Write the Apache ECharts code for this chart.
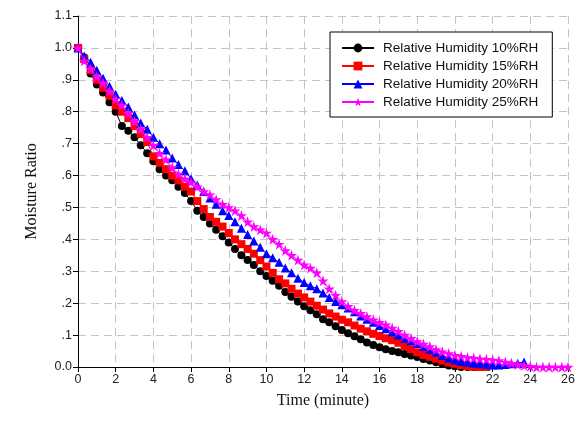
<!DOCTYPE html>
<html>
<head>
<meta charset="utf-8">
<script src="https://cdn.jsdelivr.net/npm/echarts@6/dist/echarts.min.js"></script>
<style>html,body{margin:0;padding:0;background:#fff}#c{width:586px;height:432px}</style>
</head>
<body>
<div id="c"></div>
<script>
// time axis (minutes), sampled every 20 s
var time = [0,0.33,0.67,1,1.33,1.67,2,2.33,2.67,3,3.33,3.67,4,4.33,4.67,5,5.33,5.67,6,6.33,6.67,7,7.33,7.67,8,8.33,8.67,9,9.33,9.67,10,10.33,10.67,11,11.33,11.67,12,12.33,12.67,13,13.33,13.67,14,14.33,14.67,15,15.33,15.67,16,16.33,16.67,17,17.33,17.67,18,18.33,18.67,19,19.33,19.67,20,20.33,20.67,21,21.33,21.67,22,22.33,22.67,23,23.33,23.67,24,24.33,24.67,25,25.33,25.67,26];

var rh10 = [1.0,0.97,0.92,0.885,0.86,0.83,0.80,0.755,0.74,0.72,0.695,0.67,0.645,0.62,0.60,0.585,0.565,0.545,0.52,0.49,0.47,0.45,0.43,0.41,0.39,0.37,0.35,0.335,0.32,0.30,0.285,0.27,0.255,0.235,0.22,0.205,0.19,0.178,0.165,0.15,0.14,0.128,0.116,0.106,0.096,0.087,0.077,0.069,0.062,0.056,0.05,0.046,0.041,0.036,0.031,0.025,0.02,0.015,0.01,0.005,0.002,0.0,0.0,0.0];
var rh15 = [1.0,0.965,0.93,0.90,0.875,0.85,0.82,0.80,0.78,0.755,0.73,0.705,0.66,0.64,0.62,0.60,0.585,0.565,0.55,0.52,0.495,0.47,0.455,0.44,0.42,0.40,0.385,0.37,0.355,0.335,0.315,0.295,0.275,0.262,0.245,0.23,0.218,0.205,0.192,0.18,0.168,0.158,0.148,0.14,0.13,0.12,0.112,0.104,0.097,0.09,0.084,0.076,0.066,0.056,0.046,0.038,0.032,0.026,0.02,0.014,0.01,0.006,0.003,0.001,0.0,0.0];
var rh20 = [1.0,0.975,0.955,0.93,0.905,0.88,0.855,0.835,0.815,0.79,0.765,0.745,0.72,0.70,0.68,0.655,0.635,0.615,0.59,0.57,0.55,0.53,0.51,0.49,0.475,0.455,0.435,0.415,0.395,0.375,0.355,0.342,0.328,0.31,0.295,0.278,0.265,0.255,0.245,0.232,0.218,0.205,0.195,0.185,0.173,0.16,0.15,0.14,0.13,0.12,0.11,0.10,0.09,0.082,0.074,0.064,0.056,0.046,0.036,0.028,0.022,0.017,0.015,0.012,0.01,0.008,0.006,0.006,0.008,0.01,0.012,0.016];
var rh25 = [1.0,0.96,0.935,0.91,0.89,0.865,0.84,0.82,0.795,0.77,0.745,0.72,0.695,0.67,0.65,0.625,0.605,0.59,0.58,0.565,0.55,0.54,0.525,0.51,0.50,0.49,0.475,0.455,0.44,0.43,0.42,0.40,0.385,0.365,0.35,0.335,0.32,0.31,0.295,0.27,0.245,0.225,0.205,0.19,0.178,0.168,0.158,0.148,0.14,0.132,0.122,0.112,0.10,0.09,0.08,0.072,0.064,0.055,0.048,0.042,0.037,0.034,0.03,0.028,0.026,0.024,0.022,0.02,0.016,0.012,0.008,0.005,0.002,0,0,0,0,0,0];

var seriesNames = ['Relative Humidity 10%RH','Relative Humidity 15%RH','Relative Humidity 20%RH','Relative Humidity 25%RH'];
var yTickLabels = ['0.0','.1','.2','.3','.4','.5','.6','.7','.8','.9','1.0','1.1'];

function pairs(vals){ return vals.map(function(v,i){ return [time[i], v]; }); }

var star = 'path://M50,0 L61,35 L98,35 L68,57 L79,91 L50,70 L21,91 L32,57 L2,35 L39,35 Z';
var colors = ['#000000','#ff0000','#0000ff','#ff00ff'];
var symbols = ['circle','rect','triangle',star];
var sizes = [8,8,9,11];
var data = [rh10, rh15, rh20, rh25];

var chart = echarts.init(document.getElementById('c'), null, {renderer:'canvas'});
var axisFont = {fontFamily:'Liberation Sans, Arial, sans-serif', fontSize:12.5, color:'#222'};
chart.setOption({
  animation:false,
  backgroundColor:'#fff',
  grid:{left:78, right:18, top:16, bottom:65, containLabel:false},
  legend:{
    orient:'vertical', left:330, top:32,
    padding:[9,14,8,11], itemGap:4, itemWidth:32, itemHeight:11,
    borderColor:'#000', borderWidth:1, backgroundColor:'#fff',
    textStyle:{fontFamily:'Liberation Sans, Arial, sans-serif', fontSize:13.5, lineHeight:14, color:'#111', padding:[0,0,0,4]},
    data:seriesNames
  },
  xAxis:{
    type:'value', min:0, max:26, interval:2,
    name:'Time (minute)', nameLocation:'middle', nameGap:26,
    nameTextStyle:{fontFamily:'Liberation Serif, Times New Roman, serif', fontSize:16, color:'#111'},
    axisLine:{lineStyle:{color:'#000', width:1}},
    axisTick:{show:true, inside:false, length:5, lineStyle:{color:'#000'}},
    axisLabel:Object.assign({margin:6}, axisFont),
    splitLine:{show:true, lineStyle:{color:'#c4c4c4', type:[8,5], width:1}}
  },
  yAxis:{
    type:'value', min:0, max:1.1, interval:0.1,
    name:'Moisture Ratio', nameLocation:'middle', nameGap:38, nameRotate:90,
    nameTextStyle:{fontFamily:'Liberation Serif, Times New Roman, serif', fontSize:16, color:'#111'},
    axisLine:{show:true, lineStyle:{color:'#000', width:1}},
    axisTick:{show:true, inside:false, length:5, lineStyle:{color:'#000'}},
    axisLabel:Object.assign({margin:6, formatter:function(v){ return yTickLabels[Math.round(v*10)]; }}, axisFont),
    splitLine:{show:true, lineStyle:{color:'#c4c4c4', type:[8,5], width:1}}
  },
  series: data.map(function(vals, k){
    return {
      name:seriesNames[k], type:'line', data:pairs(vals),
      symbol:symbols[k], symbolSize:sizes[k], showAllSymbol:true,
      itemStyle:{color:colors[k], borderWidth:0},
      lineStyle:{color:colors[k], width:1},
      z:2+k
    };
  })
});
</script>
</body>
</html>
